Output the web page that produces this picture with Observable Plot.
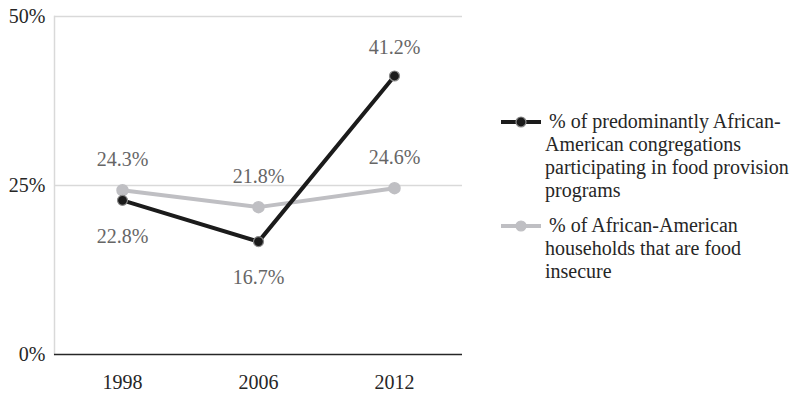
<!DOCTYPE html>
<html>
<head>
<meta charset="utf-8">
<script src="https://cdn.jsdelivr.net/npm/d3@7"></script>
<script src="https://cdn.jsdelivr.net/npm/@observablehq/plot@0.6"></script>
<style>
  html, body { margin: 0; padding: 0; background: #fff; }
  #wrap { position: relative; width: 808px; height: 394px; }
  #legend { position: absolute; left: 500px; top: 110px; font-size: 20px; line-height: 23px; color: #262626; }
  .item { position: relative; padding-left: 45px; margin-bottom: 12px; }
  .item svg { position: absolute; left: 0; top: 1px; }
  .item .first { padding-left: 4px; }
  #wrap, #wrap svg text, #legend { font-family: "Liberation Serif", "LiberationSerif", Tinos, "Noto Serif", "DejaVu Serif", FreeSerif, "Nimbus Roman", "Nimbus Roman No9 L", Times, "Times New Roman", serif !important; }
</style>
</head>
<body>
<div id="wrap"></div>
<script>
const years = ["1998", "2006", "2012"];
const congregations = [22.8, 16.7, 41.2];
const households = [24.3, 21.8, 24.6];
const seriesNames = [
  "% of predominantly African-American congregations participating in food provision programs",
  "% of African-American households that are food insecure"
];
const yTicks = [0, 25, 50];

const black = "#1b1b1b";
const grey = "#bfbfc3";

const dataC = years.map((y, i) => ({year: y, value: congregations[i]}));
const dataH = years.map((y, i) => ({year: y, value: households[i]}));
const fmt = d => d.value.toFixed(1) + "%";

const chart = Plot.plot({
  width: 808,
  height: 394,
  marginLeft: 54,
  marginRight: 346,
  marginTop: 16,
  marginBottom: 40,
  style: {fontSize: "20px", background: "#fff"},
  x: {type: "point", domain: years, padding: 0.5, label: null},
  y: {domain: [0, 50], label: null},
  marks: [
    Plot.ruleY([25, 50], {stroke: "#d9d9d9", strokeWidth: 1.3}),
    Plot.frame({anchor: "left", stroke: "#d9d9d9", strokeWidth: 1.5}),
    Plot.ruleY([0], {stroke: "#262626", strokeWidth: 1.5}),
    Plot.axisY({ticks: yTicks, tickFormat: d => d + "%", tickSize: 0, tickPadding: 9, color: "#262626", fontSize: 20}),
    Plot.axisX({tickSize: 0, tickPadding: 20, color: "#262626", fontSize: 20}),
    Plot.line(dataH, {x: "year", y: "value", stroke: grey, strokeWidth: 4}),
    Plot.dot(dataH, {x: "year", y: "value", r: 5.5, fill: grey, stroke: grey}),
    Plot.line(dataC, {x: "year", y: "value", stroke: black, strokeWidth: 4}),
    Plot.dot(dataC, {x: "year", y: "value", r: 5, fill: black, stroke: "#8a8a8a", strokeWidth: 1.2}),
    Plot.text(dataH, {x: "year", y: "value", text: fmt, dy: -31, fill: "#666", fontSize: 20}),
    Plot.text(dataC, {filter: (d, i) => i < 2, x: "year", y: "value", text: fmt, dy: 36, fill: "#666", fontSize: 20}),
    Plot.text(dataC, {filter: (d, i) => i === 2, x: "year", y: "value", text: fmt, dy: -28, fill: "#666", fontSize: 20})
  ]
});

const wrap = document.getElementById("wrap");
wrap.appendChild(chart);

const legend = document.createElement("div");
legend.id = "legend";
const swatch = (color, outline) =>
  `<svg width="42" height="22"><line x1="1" x2="41" y1="11" y2="11" stroke="${color}" stroke-width="4"/>` +
  `<circle cx="21" cy="11" r="5" fill="${color}" stroke="${outline}" stroke-width="1.2"/></svg>`;
legend.innerHTML =
  `<div class="item">${swatch(black, "#8a8a8a")}<span class="first">% of predominantly African-</span><br>American congregations<br>participating in food provision<br>programs</div>` +
  `<div class="item">${swatch(grey, grey)}<span class="first">% of African-American</span><br>households that are food<br>insecure</div>`;
wrap.appendChild(legend);
</script>
</body>
</html>
